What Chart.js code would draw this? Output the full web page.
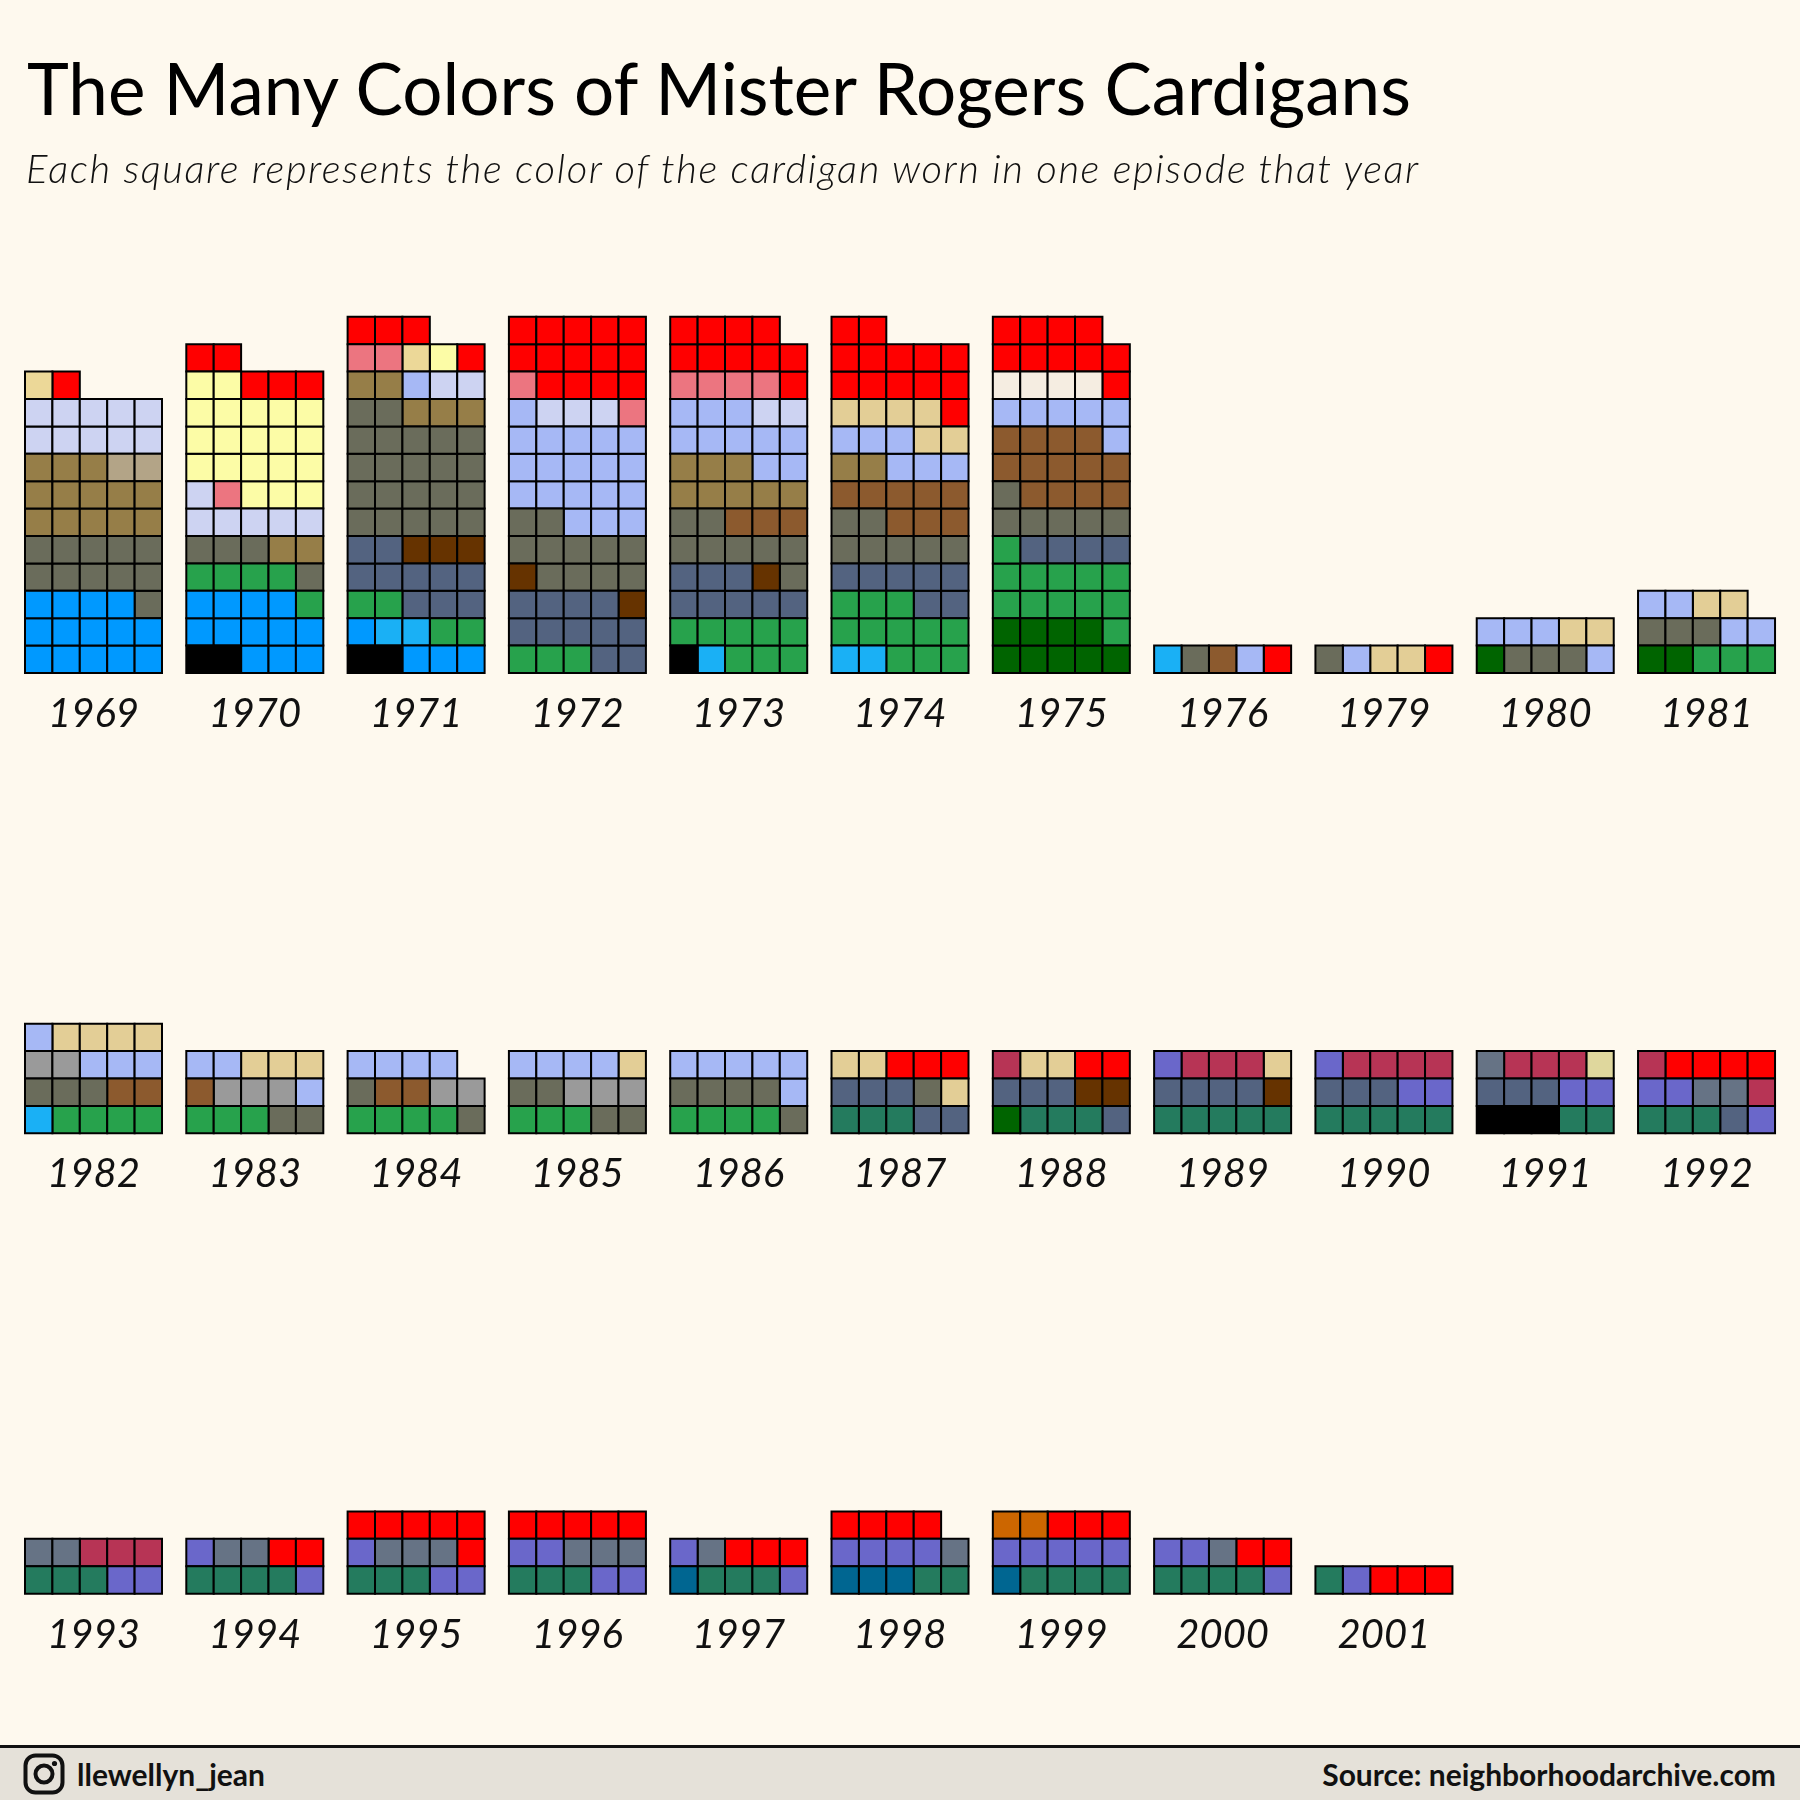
<!DOCTYPE html>
<html>
<head>
<meta charset="utf-8">
<script src="https://cdn.jsdelivr.net/npm/chart.js@4.4.1/dist/chart.umd.min.js"></script>
<style>
  html, body { margin: 0; padding: 0; background: #FEF9EE; }
  #wrap { position: relative; width: 1800px; height: 1800px; overflow: hidden; background: #FEF9EE; }
  #chart { position: absolute; left: 0; top: 0; }
  #title { position: absolute; left: 27px; top: 52px; font-family: Lato, sans-serif; font-size: 71px; line-height: 1; color: #000; white-space: nowrap; }
  #subtitle { position: absolute; left: 26px; top: 148px; font-family: Lato, sans-serif; font-style: italic; font-weight: 300; font-size: 40px; letter-spacing: 1.6px; line-height: 1; color: #111; white-space: nowrap; }
  #footer { position: absolute; left: 0; top: 1745px; width: 1800px; height: 55px; background: #E5E1D9; border-top: 3px solid #111; box-sizing: border-box; font-family: Lato, sans-serif; font-weight: 700; font-size: 30px; color: #111; }
  #handle { position: absolute; left: 77px; top: 0; height: 52px; display: flex; align-items: center; }
  #source { position: absolute; right: 24px; top: 0; height: 52px; display: flex; align-items: center; }
  #ig { position: absolute; left: 23px; top: 5px; }
</style>
</head>
<body>
<div id="wrap">
  <canvas id="chart" width="1800" height="1800"></canvas>
  <div id="title">The Many Colors of Mister Rogers Cardigans</div>
  <div id="subtitle">Each square represents the color of the cardigan worn in one episode that year</div>
  <div id="footer">
    <svg id="ig" width="42" height="42" viewBox="0 0 42 42">
      <rect x="2.5" y="2.5" width="37" height="37" rx="10" ry="10" fill="none" stroke="#111" stroke-width="4"/>
      <circle cx="21" cy="21" r="8.5" fill="none" stroke="#111" stroke-width="4"/>
      <circle cx="31.5" cy="10.5" r="2.6" fill="#111"/>
    </svg>
    <div id="handle">llewellyn_jean</div>
    <div id="source">Source: neighborhoodarchive.com</div>
  </div>
</div>
<script>
// ---------------- DATA ----------------
const years = ['1969','1970','1971','1972','1973','1974','1975','1976','1979','1980','1981',
               '1982','1983','1984','1985','1986','1987','1988','1989','1990','1991','1992',
               '1993','1994','1995','1996','1997','1998','1999','2000','2001'];

// cardigan colour categories (in stacking order) and their fills
const colorNames = ['black','blue','cyan','darkgreen','darkteal','green','teal','slate','darkbrown','purple',
                    'darkgrey','slategrey','brown','olive','grey','greytan','lightblue','lavender','cream','pink',
                    'orange','crimson','wheat','tan','khaki','yellow','red'];
const colorHex   = ['#000000','#0099FF','#1AB0F5','#006400','#006691','#27A24C','#247B5E','#536380','#663300','#6A67CA',
                    '#6A6C5B','#667385','#8C5A2E','#967E48','#9A9A9A','#B3A487','#A6B8F5','#CDD3F2','#F5EDE1','#EC7580',
                    '#CC6600','#B73455','#ECD898','#E3CE96','#DFD79D','#FCFCA6','#FF0000'];

// colours worn each year (bottom-up order) and number of episodes per colour
const yearColors = [
  ['blue','darkgrey','olive','greytan','lavender','wheat','red'],                                              // 1969
  ['black','blue','green','darkgrey','olive','lavender','pink','yellow','red'],                                 // 1970
  ['black','blue','cyan','green','slate','darkbrown','darkgrey','olive','lightblue','lavender','pink','wheat','yellow','red'], // 1971
  ['green','slate','darkbrown','darkgrey','lightblue','lavender','pink','red'],                                 // 1972
  ['black','cyan','green','slate','darkbrown','darkgrey','brown','olive','lightblue','lavender','pink','red'],   // 1973
  ['cyan','green','slate','darkgrey','brown','olive','lightblue','tan','red'],                                  // 1974
  ['darkgreen','green','slate','darkgrey','brown','lightblue','cream','red'],                                   // 1975
  ['cyan','darkgrey','brown','lightblue','red'],                                                                // 1976
  ['darkgrey','lightblue','tan','red'],                                                                         // 1979
  ['darkgreen','darkgrey','lightblue','tan'],                                                                   // 1980
  ['darkgreen','green','darkgrey','lightblue','tan'],                                                           // 1981
  ['cyan','green','darkgrey','brown','grey','lightblue','tan'],                                                 // 1982
  ['green','darkgrey','brown','grey','lightblue','tan'],                                                        // 1983
  ['green','darkgrey','brown','grey','lightblue'],                                                              // 1984
  ['green','darkgrey','grey','lightblue','tan'],                                                                // 1985
  ['green','darkgrey','lightblue'],                                                                             // 1986
  ['teal','slate','darkgrey','tan','red'],                                                                      // 1987
  ['darkgreen','teal','slate','darkbrown','crimson','tan','red'],                                               // 1988
  ['teal','slate','darkbrown','purple','crimson','tan'],                                                        // 1989
  ['teal','slate','purple','crimson'],                                                                          // 1990
  ['black','teal','slate','purple','slategrey','crimson','khaki'],                                              // 1991
  ['teal','slate','purple','slategrey','crimson','red'],                                                        // 1992
  ['teal','purple','slategrey','crimson'],                                                                      // 1993
  ['teal','purple','slategrey','red'],                                                                          // 1994
  ['teal','purple','slategrey','red'],                                                                          // 1995
  ['teal','purple','slategrey','red'],                                                                          // 1996
  ['darkteal','teal','purple','slategrey','red'],                                                               // 1997
  ['darkteal','teal','purple','slategrey','red'],                                                               // 1998
  ['darkteal','teal','purple','orange','red'],                                                                  // 1999
  ['teal','purple','slategrey','red'],                                                                          // 2000
  ['teal','purple','red']                                                                                       // 2001
];
const yearCounts = [
  [14,11,13,2,10,1,1],
  [2,12,5,4,2,6,1,20,5],
  [2,4,2,4,10,3,22,5,1,2,2,1,1,4],
  [3,11,2,11,19,3,2,14],
  [1,1,8,8,1,8,3,8,10,2,4,10],
  [2,11,7,7,8,2,6,6,13],
  [9,12,4,6,13,6,4,10],
  [1,1,1,1,1],
  [1,1,2,1],
  [1,3,4,2],
  [2,3,3,4,2],
  [1,4,3,2,2,4,4],
  [3,2,1,3,3,3],
  [4,2,2,2,4],
  [3,4,3,4,1],
  [4,5,6],
  [3,5,1,3,3],
  [1,3,4,2,1,2,2],
  [5,4,1,1,3,1],
  [5,3,3,4],
  [3,2,3,2,1,3,1],
  [3,1,3,2,2,4],
  [3,2,2,3],
  [4,2,2,2],
  [3,3,3,6],
  [3,4,3,5],
  [1,3,2,1,3],
  [3,2,4,1,4],
  [1,4,5,2,3],
  [4,3,1,2],
  [1,1,3]
];

// ---------------- LAYOUT ----------------
const U = 27.4;              // pixels per cell
const COLS = 5;              // cells per panel row
const PER_ROW = 11;          // panels per line
const PANEL_PITCH = 5.887;   // panel spacing in cells
const ROW_PITCH = 16.8;      // line spacing in cells
const LABEL_OFFSET = 1.5;    // year label below baseline, in cells
const ORIGIN_X = 25, ORIGIN_Y = 673, W = 1800, H = 1800;

const pointsByColor = colorNames.map(() => []);
years.forEach((yr, i) => {
  const pc = i % PER_ROW, pr = Math.floor(i / PER_ROW);
  let k = 0;
  yearColors[i].forEach((c, j) => {
    const ci = colorNames.indexOf(c);
    for (let n = 0; n < yearCounts[i][j]; n++) {
      const col = k % COLS, row = Math.floor(k / COLS);
      pointsByColor[ci].push({ x: pc * PANEL_PITCH + col + 0.5, y: -pr * ROW_PITCH + row + 0.5 });
      k++;
    }
  });
});

const datasets = colorNames.map((name, ci) => ({
  label: name,
  data: pointsByColor[ci],
  backgroundColor: colorHex[ci],
  borderColor: '#000',
  borderWidth: 2,
  pointStyle: 'rect',
  pointRadius: U / Math.SQRT2,
  pointHoverRadius: U / Math.SQRT2,
  clip: false
}));

const yearLabels = {
  id: 'yearLabels',
  afterDatasetsDraw(chart) {
    const { ctx, scales: { x, y } } = chart;
    ctx.save();
    ctx.font = 'italic 40px Lato';
    ctx.fillStyle = '#111';
    ctx.textAlign = 'center';
    ctx.textBaseline = 'middle';
    years.forEach((yr, i) => {
      const pc = i % PER_ROW, pr = Math.floor(i / PER_ROW);
      ctx.fillText(yr, x.getPixelForValue(pc * PANEL_PITCH + COLS / 2),
                       y.getPixelForValue(-pr * ROW_PITCH - LABEL_OFFSET));
    });
    ctx.restore();
  }
};

new Chart(document.getElementById('chart'), {
  type: 'scatter',
  data: { datasets },
  options: {
    responsive: false,
    animation: false,
    devicePixelRatio: 1,
    events: [],
    layout: { padding: 0, autoPadding: false },
    plugins: { legend: { display: false }, tooltip: { enabled: false }, title: { display: false } },
    scales: {
      x: { type: 'linear', display: false, min: -ORIGIN_X / U, max: (W - ORIGIN_X) / U },
      y: { type: 'linear', display: false, min: -(H - ORIGIN_Y) / U, max: ORIGIN_Y / U }
    }
  },
  plugins: [yearLabels]
});
</script>
</body>
</html>
